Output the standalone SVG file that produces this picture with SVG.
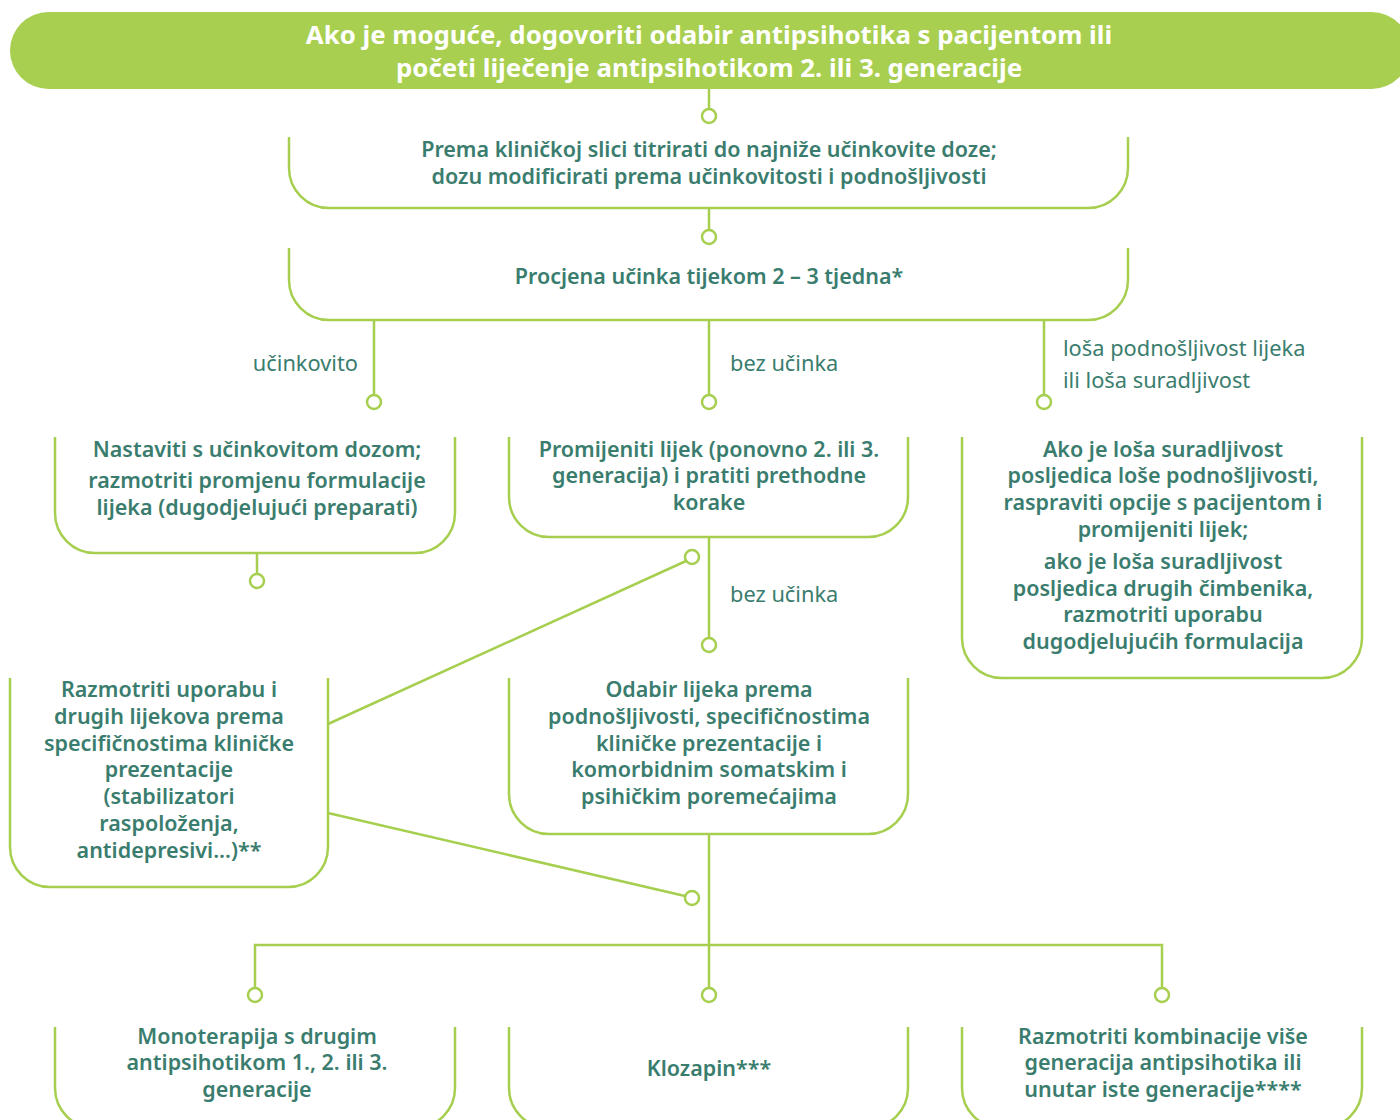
<svg xmlns="http://www.w3.org/2000/svg" width="1400" height="1120" viewBox="0 0 1400 1120">
<style>
.box{fill:none;stroke:#a6cf4f;stroke-width:2.5}
.ln{fill:none;stroke:#a6cf4f;stroke-width:2.5}
.dot{fill:#fff;stroke:#a6cf4f;stroke-width:2.5}
.t{font-family:"Noto Sans","Open Sans","DejaVu Sans",sans-serif;font-weight:600;font-size:21.5px;fill:#3a7d6e;text-anchor:middle}
.h{font-family:"Noto Sans","Open Sans","DejaVu Sans",sans-serif;font-weight:700;font-size:25.8px;fill:#fff;text-anchor:middle}
.l{font-family:"Noto Sans","Open Sans","DejaVu Sans",sans-serif;font-weight:400;font-size:21.8px;fill:#3a7d6e}
</style>
<rect width="1400" height="1120" fill="#fff"/>
<g id="connectors">
<line class="ln" x1="709" y1="89" x2="709" y2="109"/>
<line class="ln" x1="709" y1="208" x2="709" y2="230"/>
<line class="ln" x1="374" y1="320" x2="374" y2="395"/>
<line class="ln" x1="709" y1="320" x2="709" y2="395"/>
<line class="ln" x1="1044" y1="320" x2="1044" y2="395"/>
<line class="ln" x1="257" y1="553" x2="257" y2="574"/>
<line class="ln" x1="709" y1="537" x2="709" y2="638"/>
<line class="ln" x1="328" y1="724" x2="686" y2="561"/>
<line class="ln" x1="328" y1="813" x2="685" y2="896"/>
<line class="ln" x1="709" y1="834" x2="709" y2="988"/>
<polyline class="ln" points="255,988 255,945 1162,945 1162,988"/>
<circle class="dot" cx="709" cy="116" r="7"/>
<circle class="dot" cx="709" cy="237" r="7"/>
<circle class="dot" cx="374" cy="402" r="7"/>
<circle class="dot" cx="709" cy="402" r="7"/>
<circle class="dot" cx="1044" cy="402" r="7"/>
<circle class="dot" cx="257" cy="581" r="7"/>
<circle class="dot" cx="692" cy="557" r="7"/>
<circle class="dot" cx="709" cy="645" r="7"/>
<circle class="dot" cx="692" cy="898" r="7"/>
<circle class="dot" cx="255" cy="995" r="7"/>
<circle class="dot" cx="709" cy="995" r="7"/>
<circle class="dot" cx="1162" cy="995" r="7"/>
<text class="l" x="358" y="371" text-anchor="end">učinkovito</text>
<text class="l" x="730" y="371">bez učinka</text>
<text class="l" x="1063" y="356">loša podnošljivost lijeka</text>
<text class="l" x="1063" y="388">ili loša suradljivost</text>
<text class="l" x="730" y="602">bez učinka</text>
</g>
<g id="n-start">
<rect x="10" y="12" width="1400" height="77" rx="38.5" fill="#a8cf4f"/>
<text class="h" x="709" y="44">Ako je moguće, dogovoriti odabir antipsihotika s pacijentom ili</text>
<text class="h" x="709" y="77">početi liječenje antipsihotikom 2. ili 3. generacije</text>
</g>
<g id="n-titrate">
<path class="box" d="M289,137 V168 A40,40 0 0 0 329,208 H1088 A40,40 0 0 0 1128,168 V137"/>
<text class="t" x="709" y="157">Prema kliničkoj slici titrirati do najniže učinkovite doze;</text>
<text class="t" x="709" y="184">dozu modificirati prema učinkovitosti i podnošljivosti</text>
</g>
<g id="n-assess">
<path class="box" d="M289,248 V280 A40,40 0 0 0 329,320 H1088 A40,40 0 0 0 1128,280 V248"/>
<text class="t" x="709" y="284">Procjena učinka tijekom 2 – 3 tjedna*</text>
</g>
<g id="n-continue">
<path class="box" d="M55,437 V513 A40,40 0 0 0 95,553 H415 A40,40 0 0 0 455,513 V437"/>
<text class="t" x="257" y="457">Nastaviti s učinkovitom dozom;</text>
<text class="t" x="257" y="488">razmotriti promjenu formulacije</text>
<text class="t" x="257" y="515">lijeka (dugodjelujući preparati)</text>
</g>
<g id="n-switch">
<path class="box" d="M509,437 V497 A40,40 0 0 0 549,537 H868 A40,40 0 0 0 908,497 V437"/>
<text class="t" x="709" y="457">Promijeniti lijek (ponovno 2. ili 3.</text>
<text class="t" x="709" y="483">generacija) i pratiti prethodne</text>
<text class="t" x="709" y="510">korake</text>
</g>
<g id="n-adherence">
<path class="box" d="M962,437 V638 A40,40 0 0 0 1002,678 H1322 A40,40 0 0 0 1362,638 V437"/>
<text class="t" x="1163" y="457">Ako je loša suradljivost</text>
<text class="t" x="1163" y="483">posljedica loše podnošljivosti,</text>
<text class="t" x="1163" y="510">raspraviti opcije s pacijentom i</text>
<text class="t" x="1163" y="537">promijeniti lijek;</text>
<text class="t" x="1163" y="569">ako je loša suradljivost</text>
<text class="t" x="1163" y="596">posljedica drugih čimbenika,</text>
<text class="t" x="1163" y="622">razmotriti uporabu</text>
<text class="t" x="1163" y="649">dugodjelujućih formulacija</text>
</g>
<g id="n-other">
<path class="box" d="M10,678 V847 A40,40 0 0 0 50,887 H288 A40,40 0 0 0 328,847 V678"/>
<text class="t" x="169" y="697">Razmotriti uporabu i</text>
<text class="t" x="169" y="724">drugih lijekova prema</text>
<text class="t" x="169" y="751">specifičnostima kliničke</text>
<text class="t" x="169" y="777">prezentacije</text>
<text class="t" x="169" y="804">(stabilizatori</text>
<text class="t" x="169" y="831">raspoloženja,</text>
<text class="t" x="169" y="858">antidepresivi...)**</text>
</g>
<g id="n-select">
<path class="box" d="M509,678 V794 A40,40 0 0 0 549,834 H868 A40,40 0 0 0 908,794 V678"/>
<text class="t" x="709" y="697">Odabir lijeka prema</text>
<text class="t" x="709" y="724">podnošljivosti, specifičnostima</text>
<text class="t" x="709" y="751">kliničke prezentacije i</text>
<text class="t" x="709" y="777">komorbidnim somatskim i</text>
<text class="t" x="709" y="804">psihičkim poremećajima</text>
</g>
<g id="n-mono">
<path class="box" d="M55,1027 V1088 A40,40 0 0 0 95,1128 H415 A40,40 0 0 0 455,1088 V1027"/>
<text class="t" x="257" y="1044">Monoterapija s drugim</text>
<text class="t" x="257" y="1070">antipsihotikom 1., 2. ili 3.</text>
<text class="t" x="257" y="1097">generacije</text>
</g>
<g id="n-cloz">
<path class="box" d="M509,1027 V1088 A40,40 0 0 0 549,1128 H868 A40,40 0 0 0 908,1088 V1027"/>
<text class="t" x="709" y="1076">Klozapin***</text>
</g>
<g id="n-combo">
<path class="box" d="M962,1027 V1088 A40,40 0 0 0 1002,1128 H1322 A40,40 0 0 0 1362,1088 V1027"/>
<text class="t" x="1163" y="1044">Razmotriti kombinacije više</text>
<text class="t" x="1163" y="1070">generacija antipsihotika ili</text>
<text class="t" x="1163" y="1097">unutar iste generacije****</text>
</g>
</svg>
